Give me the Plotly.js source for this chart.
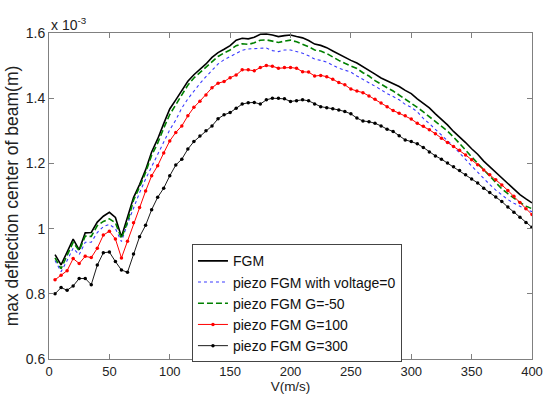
<!DOCTYPE html>
<html>
<head>
<meta charset="utf-8">
<script src="https://cdn.plot.ly/plotly-3.0.1.min.js"></script>
<style>html,body{margin:0;padding:0;background:#fff;}#chart{width:544px;height:394px;}</style>
</head>
<body>
<div id="chart"></div>
<script>
// V (m/s)
var V = [5,10,15,20,25,30,35,40,45,50,55,60,65,70,75,80,85,90,95,100,
  105,110,115,120,125,130,135,140,145,150,155,160,165,170,175,180,185,190,195,200,
  205,210,215,220,225,230,235,240,245,250,255,260,265,270,275,280,285,290,295,300,
  305,310,315,320,325,330,335,340,345,350,355,360,365,370,375,380,385,390,395,400];

// max deflection (x 10^-3 m)
var fgm = [0.920,0.889,0.928,0.968,0.935,0.987,0.988,1.020,1.038,1.050,1.034,0.974,1.035,1.095,1.135,1.180,1.235,1.275,1.322,1.367,
  1.395,1.425,1.452,1.472,1.488,1.505,1.525,1.540,1.550,1.561,1.578,1.584,1.582,1.587,1.596,1.597,1.594,1.589,1.592,1.594,
  1.589,1.585,1.577,1.566,1.562,1.555,1.545,1.535,1.524,1.516,1.508,1.497,1.487,1.474,1.462,1.453,1.446,1.436,1.424,1.414,
  1.398,1.384,1.370,1.352,1.336,1.318,1.298,1.282,1.264,1.245,1.228,1.207,1.190,1.172,1.153,1.137,1.120,1.104,1.091,1.079];

var piezoV0 = [0.902,0.868,0.902,0.940,0.920,0.958,0.958,0.988,1.006,1.013,1.000,0.960,1.015,1.065,1.110,1.152,1.190,1.228,1.262,1.303,
  1.333,1.370,1.398,1.422,1.445,1.466,1.486,1.505,1.518,1.527,1.538,1.547,1.551,1.551,1.553,1.554,1.546,1.543,1.548,1.548,
  1.543,1.538,1.530,1.520,1.516,1.511,1.501,1.492,1.486,1.480,1.468,1.458,1.449,1.437,1.426,1.414,1.405,1.395,1.381,1.372,
  1.358,1.338,1.322,1.305,1.288,1.270,1.252,1.232,1.211,1.192,1.173,1.153,1.135,1.118,1.102,1.089,1.078,1.068,1.059,1.052];

var gMinus50 = [0.910,0.877,0.918,0.958,0.932,0.977,0.976,1.009,1.022,1.030,1.018,0.970,1.020,1.087,1.128,1.172,1.225,1.262,1.308,1.350,
  1.380,1.410,1.440,1.462,1.478,1.494,1.513,1.528,1.539,1.548,1.561,1.567,1.565,1.570,1.578,1.579,1.575,1.571,1.575,1.578,
  1.573,1.566,1.558,1.548,1.545,1.537,1.526,1.516,1.507,1.500,1.491,1.478,1.468,1.454,1.442,1.432,1.422,1.410,1.398,1.385,
  1.372,1.358,1.344,1.329,1.314,1.299,1.281,1.262,1.241,1.220,1.200,1.179,1.160,1.140,1.122,1.107,1.093,1.080,1.069,1.061];

var g100 = [0.843,0.857,0.871,0.908,0.893,0.915,0.911,0.940,0.980,0.992,0.968,0.910,0.961,1.018,1.065,1.115,1.162,1.193,1.232,1.269,
  1.295,1.315,1.346,1.372,1.391,1.410,1.432,1.446,1.451,1.463,1.471,1.487,1.487,1.484,1.494,1.500,1.498,1.492,1.494,1.494,
  1.492,1.481,1.480,1.468,1.470,1.466,1.458,1.448,1.441,1.428,1.422,1.417,1.407,1.397,1.385,1.374,1.362,1.354,1.346,1.336,
  1.323,1.314,1.303,1.291,1.277,1.264,1.252,1.240,1.226,1.211,1.196,1.180,1.165,1.150,1.134,1.117,1.099,1.080,1.061,1.043];

var g300 = [0.800,0.819,0.811,0.824,0.847,0.847,0.828,0.888,0.926,0.928,0.899,0.873,0.866,0.922,0.975,1.010,1.058,1.096,1.124,1.162,
  1.195,1.213,1.244,1.267,1.284,1.300,1.315,1.337,1.349,1.356,1.369,1.382,1.386,1.387,1.382,1.395,1.400,1.400,1.398,1.390,
  1.392,1.395,1.392,1.382,1.374,1.371,1.368,1.364,1.359,1.352,1.339,1.330,1.328,1.323,1.315,1.305,1.298,1.285,1.272,1.267,
  1.260,1.249,1.235,1.223,1.213,1.201,1.190,1.178,1.165,1.152,1.140,1.124,1.111,1.097,1.083,1.066,1.050,1.035,1.019,1.004];

var names = ['FGM','piezo FGM with voltage=0','piezo FGM G=-50','piezo FGM G=100','piezo FGM G=300'];
var xTicks = [0,50,100,150,200,250,300,350,400];
var yTicks = [0.6,0.8,1,1.2,1.4,1.6];

var FONT = '"Liberation Sans", Arial, sans-serif';

var traces = [
  {x: V, y: fgm, name: names[0], mode: 'lines', line: {color: '#000000', width: 1.6}},
  {x: V, y: piezoV0, name: names[1], mode: 'lines', line: {color: '#3a3aff', width: 1.1, dash: 'dot'}},
  {x: V, y: gMinus50, name: names[2], mode: 'lines', line: {color: '#008000', width: 1.6, dash: '6px,3px'}},
  {x: V, y: g100, name: names[3], mode: 'lines+markers', line: {color: '#ff0000', width: 1}, marker: {color: '#ff0000', size: 3.5}},
  {x: V, y: g300, name: names[4], mode: 'lines+markers', line: {color: '#000000', width: 0.9}, marker: {color: '#000000', size: 3.5}}
];

var axisCommon = {
  showgrid: false, zeroline: false, showline: true, mirror: 'ticks',
  linecolor: '#808080', linewidth: 1, ticks: 'inside', ticklen: 5, tickcolor: '#808080',
  tickfont: {family: FONT, size: 14, color: '#222'}
};

var layout = {
  width: 544, height: 394,
  margin: {l: 49, r: 12, t: 33, b: 35},
  paper_bgcolor: '#fff', plot_bgcolor: '#fff',
  font: {family: FONT, color: '#222'},
  showlegend: true,
  legend: {
    x: 0.296, y: 0.352, xanchor: 'left', yanchor: 'top',
    bgcolor: '#fff', bordercolor: '#444', borderwidth: 1,
    font: {family: FONT, size: 14, color: '#111'},
    itemwidth: 30, tracegroupgap: 0
  },
  xaxis: Object.assign({}, axisCommon, {
    range: [0, 400], tickvals: xTicks, ticktext: xTicks.map(String),
    ticklabeloverflow: 'allow',
    tickfont: {family: FONT, size: 13, color: '#222'},
    title: {text: 'V(m/s)', font: {family: FONT, size: 13.5, color: '#222'}, standoff: 2}
  }),
  yaxis: Object.assign({}, axisCommon, {
    range: [0.6, 1.6], tickvals: yTicks, ticktext: yTicks.map(String),
    title: {text: 'max deflection center of beam(m)', font: {family: FONT, size: 17.5, color: '#222'}, standoff: 2}
  }),
  annotations: [{
    xref: 'paper', yref: 'paper', x: 0, y: 1, xanchor: 'left', yanchor: 'bottom',
    text: 'x 10<sup>-3</sup>', showarrow: false, yshift: -2,
    font: {family: FONT, size: 14, color: '#222'}
  }]
};

Plotly.newPlot('chart', traces, layout, {staticPlot: true, displayModeBar: false});
</script>
</body>
</html>
